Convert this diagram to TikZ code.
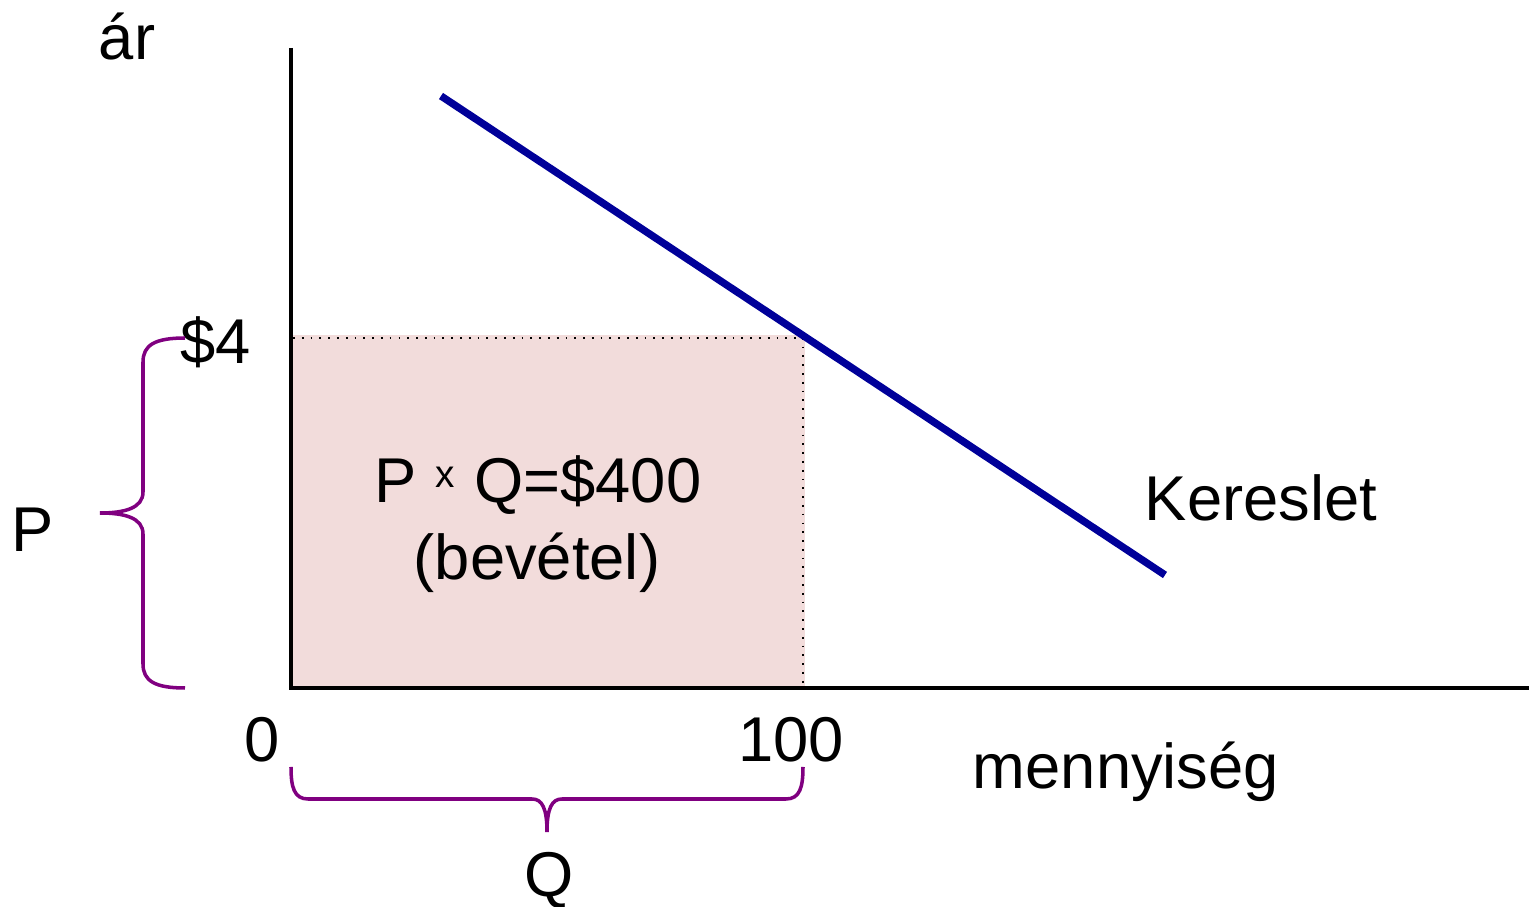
\documentclass[tikz,border=0pt]{standalone}
\usepackage{fontspec}
\setmainfont{Liberation Sans}
\definecolor{pinkfill}{HTML}{F2DCDB}
\definecolor{navy}{HTML}{000099}
\definecolor{brace}{HTML}{800080}
\begin{document}
\begin{tikzpicture}[x=0.01cm,y=-0.01cm,
  lbl/.style={font=\fontsize{18}{21}\selectfont, inner sep=0pt, anchor=center},
  axis/.style={line width=1.4pt, black},
  demand/.style={line width=2.1pt, navy},
  bracepath/.style={line width=1.0pt, brace},
  guide/.style={dotted, line width=0.5pt, black}]
\useasboundingbox (0,0) rectangle (1529,907);
% revenue rectangle
\fill[pinkfill] (293,335) rectangle (805,686);
\coordinate (p4) at (293,338);
\coordinate (pq) at (803,338);
\coordinate (q100) at (803,686);
\draw[guide] (p4) -- (pq) -- (q100);
% axes
\coordinate (top) at (291,48);
\coordinate (origin) at (291,688);
\coordinate (right) at (1529,688);
\draw[axis] (top) -- (origin) -- (right);
% demand
\coordinate (d1) at (441,96);
\coordinate (d2) at (1165,575);
\draw[demand] (d1) -- (d2);
% labels
\node[lbl] (ar) at (127,37) {ár};
\node[lbl] (four) at (216,342) {\$4};
\node[lbl] (P) at (33,530) {P};
\node[lbl] (zero) at (262,740) {0};
\node[lbl] (hundred) at (791,740) {100};
\node[lbl] (menny) at (1126,772) {mennyiség};
\node[lbl] (Q) at (549,880) {Q};
\node[lbl] (ker) at (1261,498) {Kereslet};
\node[lbl] (rev1) at (538,485) {P\hspace{0.3em}\raisebox{0.45ex}{\fontsize{11}{12}\selectfont x}\hspace{0.3em}Q=\$400};
\node[lbl] (rev2) at (537,563) {(bevétel)};
% left brace
\coordinate (lb1) at (185,338);
\coordinate (lbt) at (100,513);
\coordinate (lb2) at (185,688);
\draw[bracepath] (lb1) .. controls (155,338) and (143,345) .. (143,362)
  -- (143,492) .. controls (143,508) and (125,513) .. (lbt)
  .. controls (125,513) and (143,518) .. (143,534)
  -- (143,664) .. controls (143,681) and (155,688) .. (lb2);
% bottom brace
\coordinate (bb1) at (291,767);
\coordinate (bbt) at (547,832);
\coordinate (bb2) at (803,767);
\draw[bracepath] (bb1) .. controls (291,787) and (294,799) .. (308,799)
  -- (532,799) .. controls (542,799) and (547,808) .. (bbt)
  .. controls (547,808) and (552,799) .. (562,799)
  -- (786,799) .. controls (800,799) and (803,787) .. (bb2);
\end{tikzpicture}
\end{document}
